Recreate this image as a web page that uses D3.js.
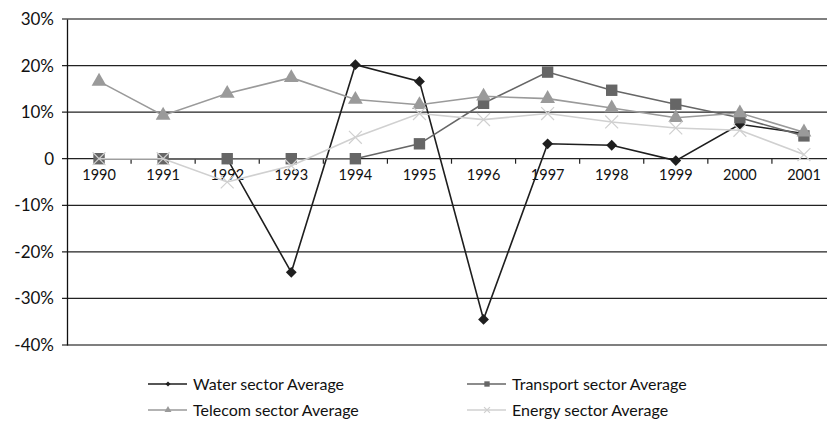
<!DOCTYPE html>
<html><head><meta charset="utf-8">
<script src="https://cdn.jsdelivr.net/npm/d3@7"></script>
<style>body{margin:0;background:#fff}svg{display:block}text{font-family:Lato,"Open Sans",sans-serif;fill:#111}</style>
</head><body><svg id="c" width="827" height="423"></svg>
<script>
const years = ["1990","1991","1992","1993","1994","1995","1996","1997","1998","1999","2000","2001"];
const water =     [0, 0, 0, -24.4, 20.2, 16.6, -34.5, 3.2, 2.9, -0.4, 7.4, 5.4];
const transport = [0, 0, 0, 0, 0, 3.2, 11.9, 18.6, 14.7, 11.7, 8.8, 4.9];
const telecom =   [16.6, 9.3, 14.0, 17.4, 12.7, 11.6, 13.4, 12.9, 10.9, 8.8, 9.8, 5.7];
const energy =    [0, 0, -5.0, -1.5, 4.6, 9.7, 8.4, 9.7, 7.9, 6.6, 6.1, 0.9];
const yTicks = [30, 20, 10, 0, -10, -20, -30, -40];
const seriesNames = ["Water sector Average","Transport sector Average","Telecom sector Average","Energy sector Average"];

const svg = d3.select("#c");
const x = d3.scaleBand().domain(years).range([67, 836]);
const y = d3.scaleLinear().domain([-40, 30]).range([345, 19]);

// gridlines
svg.append("g").selectAll("line").data(yTicks).join("line")
  .attr("x1", 62).attr("x2", 836)
  .attr("y1", d => y(d)).attr("y2", d => y(d))
  .attr("stroke", d => (d === 30 || d === -40) ? "#555" : "#222").attr("stroke-width", 1.3);

// y axis
const yAxis = d3.axisLeft(y).tickValues(yTicks).tickSize(0).tickPadding(13)
  .tickFormat(d => d === 0 ? "0" : d + "%");
const ga = svg.append("g").attr("transform", "translate(67,0)").call(yAxis);
ga.select(".domain").attr("stroke", "#111").attr("stroke-width", 1.3);
ga.selectAll("text").style("font-size", "17px").attr("fill", "#111");

// x axis on zero line
const xAxis = d3.axisBottom(x).tickSize(0).tickPadding(11);
const gx = svg.append("g").attr("transform", `translate(0,${y(0)})`).call(xAxis);
gx.select(".domain").remove();
gx.selectAll("text").style("font-size", "14.5px").attr("fill", "#111");
// category boundary ticks
svg.append("g").selectAll("line").data(years.slice(1)).join("line")
  .attr("x1", d => x(d)).attr("x2", d => x(d))
  .attr("y1", y(0)).attr("y2", y(0) + 5)
  .attr("stroke", "#222").attr("stroke-width", 1.2);

const series = [
  {name: seriesNames[0], vals: water, color: "#1e1e1e", sym: d3.symbolDiamond2, size: 75, fill: true},
  {name: seriesNames[1], vals: transport, color: "#666", sym: d3.symbolSquare, size: 130, fill: true},
  {name: seriesNames[2], vals: telecom, color: "#9a9a9a", sym: d3.symbolTriangle, size: 95, fill: true},
  {name: seriesNames[3], vals: energy, color: "#d0d0d0", sym: d3.symbolTimes, size: 110, fill: false}
];

const line = d3.line().x((d, i) => x(years[i]) + x.bandwidth() / 2).y(d => y(d));
function marker(g, s, sizeScale) {
  const p = g.append("path").attr("d", d3.symbol(s.sym, s.size * sizeScale)());
  if (s.fill) p.attr("fill", s.color).attr("stroke", "none");
  else p.attr("fill", "none").attr("stroke", s.color).attr("stroke-width", 1.2);
  return p;
}
series.forEach(s => {
  svg.append("path").datum(s.vals).attr("d", line)
    .attr("fill", "none").attr("stroke", s.color).attr("stroke-width", 1.6);
  s.vals.forEach((v, i) => {
    const g = svg.append("g").attr("transform", `translate(${x(years[i]) + x.bandwidth() / 2},${y(v)})`);
    marker(g, s, 1);
  });
});

// legend
const legPos = [[148, 384], [467, 384], [148, 410], [467, 410]];
series.forEach((s, i) => {
  const [lx, ly] = legPos[i];
  const g = svg.append("g").attr("transform", `translate(${lx},${ly})`);
  g.append("line").attr("x1", 0).attr("x2", 39).attr("y1", 0).attr("y2", 0)
    .attr("stroke", s.color).attr("stroke-width", 1.6);
  const m = g.append("g").attr("transform", "translate(20,0)");
  marker(m, s, 0.22);
  g.append("text").attr("x", 45).attr("y", 0).attr("dy", "0.35em")
    .style("font-size", "16px").text(s.name);
});
</script></body></html>
